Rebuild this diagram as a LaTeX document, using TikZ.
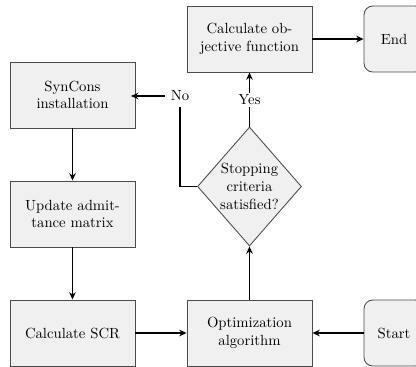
\documentclass[tikz,border=0pt]{standalone}
\usetikzlibrary{shapes.geometric,arrows.meta}
\begin{document}
\begin{tikzpicture}[x=0.68pt,y=-0.68pt,
  procbox/.style={draw=black!70,line width=0.6pt,fill=black!6,minimum width=85pt,minimum height=44.9pt,align=center,inner sep=2pt},
  termbox/.style={draw=black!70,line width=0.6pt,fill=black!6,rounded corners=6pt,minimum width=40.8pt,minimum height=44.9pt,align=center,inner sep=1pt},
  decbox/.style={draw=black!70,line width=0.6pt,fill=black!6,diamond,aspect=0.87,minimum width=70.7pt,minimum height=80.9pt,align=center,inner sep=0pt},
  arr/.style={-{Stealth[length=5pt,width=4.5pt]},line width=1pt},
  seg/.style={line width=1pt},
  lbl/.style={inner sep=1pt}]
\useasboundingbox (0,0) rectangle (416,366);
\node[procbox] (calc) at (249.5,39) {Calculate ob-\\jective function};
\node[termbox] (end) at (394,39) {End};
\node[procbox] (syn) at (72.5,95) {SynCons\\installation};
\node[procbox] (upd) at (72.5,214) {Update admit-\\tance matrix};
\node[procbox] (scr) at (72.5,333) {Calculate SCR};
\node[procbox] (opt) at (249.5,333) {Optimization\\algorithm};
\node[termbox] (start) at (394,333) {Start};
\node[decbox] (dia) at (249.5,186.5) {Stopping\\criteria\\satisfied?};
\node[lbl] (no) at (180,96) {No};
\node[lbl] (yes) at (249.5,100) {Yes};
\draw[arr] (calc.east) -- (end.west);
\draw[arr] (syn.south) -- (upd.north);
\draw[arr] (upd.south) -- (scr.north);
\draw[arr] (scr.east) -- (opt.west);
\draw[arr] (start.west) -- (opt.east);
\draw[arr] (opt.north) -- (dia.south);
\draw[seg] (dia.north) -- (yes.south);
\draw[arr] (yes.north) -- (calc.south);
\draw[seg] (dia.west) -| ([yshift=-3pt]no.south);
\draw[arr] ([xshift=-3pt]no.west) -- ([xshift=-3pt]no.west -| syn.east);
\end{tikzpicture}
\end{document}
